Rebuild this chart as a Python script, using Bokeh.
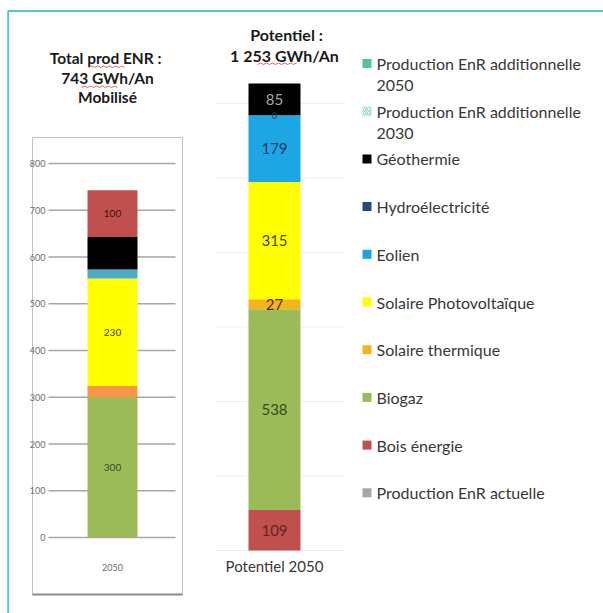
from bokeh.plotting import figure
from bokeh.models import Range1d, ColumnDataSource
from bokeh.embed import file_html
from bokeh.resources import INLINE
from bokeh.core.properties import value

# ---------------- data ----------------
left_title = ["Total prod  ENR :", "743 GWh/An", "Mobilisé"]
left_category = "2050"
left_series = ["Biogaz", "Solaire thermique", "Solaire Photovoltaïque", "Eolien", "Géothermie", "Bois énergie"]
left_values = [300, 24, 230, 19, 70, 100]
left_colors = ["#9BBB59", "#F79646", "#FFFF00", "#4BACC6", "#000000", "#C0504D"]
left_label_colors = ["#3B4A1E", "#5A3000", "#3F3F00", "#1F3864", "#FFFFFF", "#3A1111"]
left_ticks = [0, 100, 200, 300, 400, 500, 600, 700, 800]

mid_title = ["Potentiel :", "1 253 GWh/An"]
mid_category = "Potentiel 2050"
mid_series = ["Bois énergie", "Biogaz", "Solaire thermique", "Solaire Photovoltaïque", "Eolien", "Hydroélectricité", "Géothermie"]
mid_values = [109, 538, 27, 315, 179, 0, 85]
mid_colors = ["#C0504D", "#9BBB59", "#F5B41E", "#FFFF00", "#1CA6E4", "#1F4E79", "#000000"]
mid_label_colors = ["#632523", "#3B4A1E", "#4A3000", "#3F3F00", "#1F3864", "#1F3864", "#A6A6A6"]
mid_grid = [0, 200, 400, 600, 800, 1000, 1200]

legend_labels = [
    ["Production EnR additionnelle", "2050"],
    ["Production EnR additionnelle", "2030"],
    ["Géothermie"],
    ["Hydroélectricité"],
    ["Eolien"],
    ["Solaire Photovoltaïque"],
    ["Solaire thermique"],
    ["Biogaz"],
    ["Bois énergie"],
    ["Production EnR actuelle"],
]
legend_colors = ["#52C39A", "#8FD9C0", "#000000", "#24497A", "#1AA3E0", "#FFFF00",
                 "#F5B324", "#9BBB59", "#C0504D", "#A6A6A6"]
legend_hatched = [False, True, False, False, False, False, False, False, False, False]

# ---------------- layout constants (pixels) ----------------
W, H = 603, 613
FONT = "Lato"
TXT = "#383838"

A_zero, A_top_px, A_top_val = 537.0, 163.0, 800.0
A_scale = (A_zero - A_top_px) / A_top_val
A_x, A_w = 112, 50

B_zero, B_top_px = 550.0, 83.0
B_scale = (B_zero - B_top_px) / sum(mid_values)
B_x, B_w = 274, 52

p = figure(width=W, height=H, x_range=Range1d(0, W), y_range=Range1d(H, 0),
           x_axis_type=None, y_axis_type=None, toolbar_location=None,
           output_backend="svg", min_border=0, outline_line_color=None)
p.grid.visible = False
p.background_fill_color = "white"
p.border_fill_color = "white"
p.extra_y_ranges = {
    "yA": Range1d((A_zero - H) / A_scale, A_zero / A_scale),
    "yB": Range1d((B_zero - H) / B_scale, B_zero / B_scale),
}

# teal page border (top and left)
p.line(x=[7.7, 7.7, W], y=[H, 10.6, 10.6], line_color="#5CC6BE", line_width=2)

# ---------------- left chart ----------------
p.quad(left=32, right=182, top=137, bottom=594, fill_color=None,
       line_color="#C4C4C4", line_width=1)
p.segment(x0=[32], x1=[182], y0=[594], y1=[594], line_color="#8C8C8C", line_width=2)

p.segment(x0=48, x1=175, y0=left_ticks, y1=left_ticks, y_range_name="yA",
          line_color="#A6A6A6", line_width=1.5)
p.text(x=[45] * len(left_ticks), y=left_ticks, text=[str(t) for t in left_ticks],
       y_range_name="yA", text_align="right", text_baseline="middle",
       text_font=value(FONT), text_font_size="9px", text_color="#6E6E6E")

tops, bottoms, acc = [], [], 0
for v in left_values:
    bottoms.append(acc)
    acc += v
    tops.append(acc)
srcA = ColumnDataSource(dict(bottom=bottoms, top=tops, color=left_colors,
                             mid=[(b + t) / 2 for b, t in zip(bottoms, tops)],
                             label=[str(v) if v >= 100 else "" for v in left_values],
                             lc=left_label_colors))
p.vbar(x=A_x, width=A_w, bottom="bottom", top="top", fill_color="color",
       line_color=None, source=srcA, y_range_name="yA")
p.text(x=A_x, y="mid", text="label", text_color="lc", source=srcA, y_range_name="yA",
       text_align="center", text_baseline="middle", text_font=value(FONT),
       text_font_size="10px")
p.text(x=[A_x], y=[567], text=[left_category], text_align="center", text_baseline="middle",
       text_font=value(FONT), text_font_size="9px", text_color="#6E6E6E")
p.text(x=[107] * 3, y=[57, 77, 96], text=left_title, text_align="center",
       text_baseline="middle", text_font=value(FONT), text_font_style="bold",
       text_font_size="15.5px", text_color="#1A1A1A")
# spell-check squiggles in the original picture
p.line(x=[88, 91, 94, 97, 100, 103, 106, 109, 112, 115, 118, 121, 124],
       y=[67, 65.5, 67, 65.5, 67, 65.5, 67, 65.5, 67, 65.5, 67, 65.5, 67],
       line_color="#E04040", line_width=0.8)
p.line(x=[81, 84, 87, 90, 93, 96, 99, 102, 105, 108, 111, 114, 117],
       y=[87, 85.5, 87, 85.5, 87, 85.5, 87, 85.5, 87, 85.5, 87, 85.5, 87],
       line_color="#E04040", line_width=0.8)
p.line(x=[257, 260, 263, 266, 269, 272, 275, 278, 281, 284, 287, 290, 293, 296],
       y=[64, 62.5, 64, 62.5, 64, 62.5, 64, 62.5, 64, 62.5, 64, 62.5, 64, 62.5],
       line_color="#E04040", line_width=0.8)

# ---------------- middle chart ----------------
p.segment(x0=215, x1=345, y0=mid_grid, y1=mid_grid, y_range_name="yB",
          line_color="#EDEDED", line_width=1)
tops, bottoms, acc = [], [], 0
for v in mid_values:
    bottoms.append(acc)
    acc += v
    tops.append(acc)
srcB = ColumnDataSource(dict(bottom=bottoms, top=tops, color=mid_colors,
                             mid=[(b + t) / 2 for b, t in zip(bottoms, tops)],
                             label=[str(v) for v in mid_values], lc=mid_label_colors,
                             size=["9px" if v == 0 else "15px" for v in mid_values]))
p.vbar(x=B_x, width=B_w, bottom="bottom", top="top", fill_color="color",
       line_color=None, source=srcB, y_range_name="yB")
p.text(x=B_x, y="mid", text="label", text_color="lc", text_font_size="size",
       source=srcB, y_range_name="yB", text_align="center", text_baseline="middle",
       text_font=value(FONT))
p.text(x=[B_x], y=[565], text=[mid_category], text_align="center", text_baseline="middle",
       text_font=value(FONT), text_font_size="15px", text_color=TXT)
p.text(x=[286, 284], y=[34, 55], text=mid_title, text_align="center",
       text_baseline="middle", text_font=value(FONT), text_font_style="bold",
       text_font_size="16px", text_color="#1A1A1A")

# ---------------- legend ----------------
L_y0, L_dy, L_sq_x, L_tx = 63, 47.7, 366.5, 376
for i, (lines, col, hat) in enumerate(zip(legend_labels, legend_colors, legend_hatched)):
    y = L_y0 + L_dy * i
    if hat:
        p.rect(x=[L_sq_x], y=[y], width=9, height=9, fill_color="white", line_color=None,
               hatch_pattern="/", hatch_color=col, hatch_scale=4, hatch_weight=1.2)
    else:
        p.rect(x=[L_sq_x], y=[y], width=9, height=9, fill_color=col, line_color=None)
    p.text(x=[L_tx] * len(lines), y=[y + 22 * k for k in range(len(lines))], text=lines,
           text_align="left", text_baseline="middle", text_font=value(FONT),
           text_font_size="16px", text_color=TXT)

open("out.html", "w").write(file_html(p, INLINE))
